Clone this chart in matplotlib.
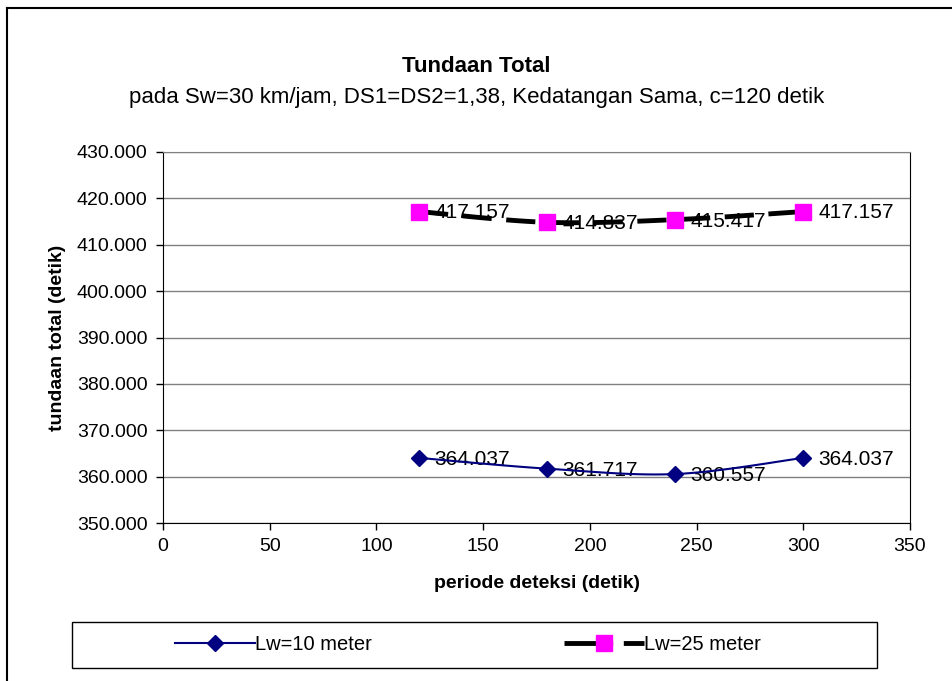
import numpy as np
import matplotlib
matplotlib.use("Agg")
import matplotlib.pyplot as plt
from matplotlib.lines import Line2D
from matplotlib.patches import Rectangle
from matplotlib.ticker import FuncFormatter

plt.rcParams['font.family'] = ['Liberation Sans', 'DejaVu Sans']

# data
periode = [120, 180, 240, 300]
lw10 = [364.037, 361.717, 360.557, 364.037]
lw25 = [417.157, 414.837, 415.417, 417.157]
series_names = ["Lw=10 meter", "Lw=25 meter"]

title = "Tundaan Total"
subtitle = "pada Sw=30 km/jam, DS1=DS2=1,38, Kedatangan Sama, c=120 detik"
xlabel = "periode deteksi (detik)"
ylabel = "tundaan total (detik)"


def smooth_curve(xs, ys, n=40):
    # Catmull-Rom, like excel's smoothed line
    pts = np.column_stack([xs, ys]).astype(float)
    p = np.vstack([pts[0], pts, pts[-1]])
    t = np.linspace(0, 1, n)[:, None]
    segs = []
    for i in range(1, len(p) - 2):
        p0, p1, p2, p3 = p[i - 1], p[i], p[i + 1], p[i + 2]
        seg = 0.5 * (2 * p1 + (-p0 + p2) * t
                     + (2 * p0 - 5 * p1 + 4 * p2 - p3) * t ** 2
                     + (-p0 + 3 * p1 - 3 * p2 + p3) * t ** 3)
        segs.append(seg)
    c = np.vstack(segs)
    return c[:, 0], c[:, 1]


fig = plt.figure(figsize=(9.53, 6.81), dpi=100)
ax = fig.add_axes([163 / 953, 1 - 523 / 681, (910 - 163) / 953, (523 - 152) / 681])

# outer chart frame
fig.add_artist(Line2D([7 / 953, 7 / 953], [0, 1 - 8 / 681], color='black', lw=1.5))
fig.add_artist(Line2D([7 / 953, 1], [1 - 8 / 681, 1 - 8 / 681], color='black', lw=1.5))

ax.set_xlim(0, 350)
ax.set_ylim(350, 430)
ax.set_xticks(np.arange(0, 351, 50))
ax.set_yticks(np.arange(350, 431, 10))
ax.yaxis.set_major_formatter(FuncFormatter(lambda v, p: f"{v:.3f}"))
ax.grid(axis='y', color='#808080', lw=1)
ax.set_axisbelow(True)
ax.tick_params(direction='out', length=5, width=1, labelsize=14, pad=6)
for s in ['left', 'bottom', 'right']:
    ax.spines[s].set_color('black')
ax.spines['top'].set_color('#808080')

# Lw=10
sx, sy = smooth_curve(periode, lw10)
ax.plot(sx, sy, color='#000080', lw=1.5, zorder=3)
ax.plot(periode, lw10, ls='none', marker='D', ms=8, color='#000080', zorder=4)

# Lw=25
sx, sy = smooth_curve(periode, lw25)
ax.plot(sx, sy, color='black', lw=3.5, dashes=(6, 3), zorder=3)
ax.plot(periode, lw25, ls='none', marker='s', ms=12, color='#FF00FF', zorder=4)

for vals in (lw10, lw25):
    for xv, yv in zip(periode, vals):
        ax.annotate(f"{yv:.3f}", (xv, yv), xytext=(11, -1), textcoords='offset points',
                    ha='left', va='center', fontsize=15, zorder=2)

ax.set_xlabel(xlabel, fontsize=14, fontweight='bold', labelpad=14)
ax.set_ylabel(ylabel, fontsize=14, fontweight='bold', labelpad=8)

fig.text(0.5, 1 - 67 / 681, title, ha='center', va='center', fontsize=16, fontweight='bold')
fig.text(0.5, 1 - 97 / 681, subtitle, ha='center', va='center', fontsize=16)

# legend box
fig.add_artist(Rectangle((72 / 953, 1 - 668 / 681), (877 - 72) / 953, 46 / 681,
                         transform=fig.transFigure, fill=False, ec='black', lw=1))
handles = [
    Line2D([], [], color='#000080', lw=1.5, marker='D', ms=8),
    Line2D([], [], color='black', lw=3.5, ls=(0, (10, 2.2)), marker='s', ms=12,
           mfc='#FF00FF', mec='#FF00FF'),
]
fig.legend(handles, series_names, loc='center', bbox_to_anchor=(468 / 953, 1 - 645 / 681),
           ncol=2, frameon=False, fontsize=14.5, handlelength=4, handletextpad=0.0,
           columnspacing=9.5)

fig.savefig("out.png", dpi=100)
